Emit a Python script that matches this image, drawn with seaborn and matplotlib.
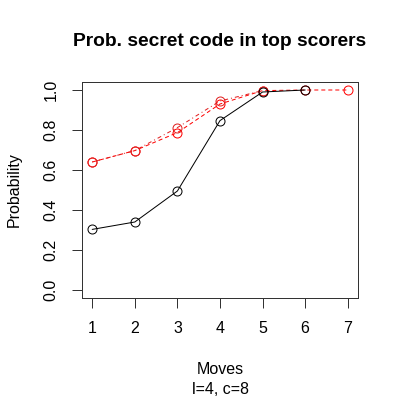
"""Probability that the secret code is among the top scorers, by move."""

import matplotlib
matplotlib.use("Agg")
import matplotlib.pyplot as plt
import seaborn as sns
import pandas as pd

# Values
moves_black = [1, 2, 3, 4, 5, 6]
prob_black = [0.303, 0.34, 0.495, 0.847, 0.99, 1.0]

moves_red_dash = [1, 2, 3, 4, 5, 6, 7]
prob_red_dash = [0.64, 0.697, 0.787, 0.93, 0.997, 1.0, 1.0]

moves_red_dotdash = [1, 2, 3, 4, 5]
prob_red_dotdash = [0.64, 0.697, 0.812, 0.945, 0.997]

x_ticks = [1, 2, 3, 4, 5, 6, 7]
y_ticks = [0.0, 0.2, 0.4, 0.6, 0.8, 1.0]

sns.set_theme(style="white")
plt.rcParams['font.family'] = ['Liberation Sans', 'DejaVu Sans']

fig = plt.figure(figsize=(400 / 72, 400 / 72), dpi=72)
ax = fig.add_axes([82 / 400, 102 / 400, 276 / 400, 216 / 400])

series = [
    (moves_red_dash, prob_red_dash, "red", (0, (4, 3))),
    (moves_red_dotdash, prob_red_dotdash, "#e02020", (0, (1, 3, 4, 3))),
    (moves_black, prob_black, "black", "-"),
]
for xs, ys, col, ls in series:
    df = pd.DataFrame({"move": xs, "prob": ys})
    sns.lineplot(data=df, x="move", y="prob", ax=ax, color=col,
                 linewidth=1, linestyle=ls, marker="o", markersize=9,
                 markerfacecolor="none", markeredgecolor=col,
                 markeredgewidth=1)

ax.set_xlim(0.76, 7.24)
ax.set_ylim(-0.04, 1.04)
ax.set_xticks(x_ticks)
ax.set_xticklabels([str(t) for t in x_ticks])
ax.set_yticks(y_ticks)
ax.set_yticklabels([f"{t:.1f}" for t in y_ticks], rotation=90, va="center")
ax.tick_params(axis="both", direction="out", length=9.6, width=1,
               color="#333333", labelsize=16, labelcolor="black")
ax.tick_params(axis="x", pad=13)
ax.tick_params(axis="y", pad=14)
ax.tick_params(bottom=True, left=True)
for sp in ax.spines.values():
    sp.set_visible(True)
    sp.set_color("#333333")
    sp.set_linewidth(1)

ax.set_xlabel("")
ax.set_ylabel("")
fig.text(14 / 400, 1 - 190 / 400, "Probability", ha="center", va="center",
         rotation=90, fontsize=16, color="black")
fig.text(220 / 400, 1 - 370 / 400, "Moves", ha="center", va="center",
         fontsize=16, color="black")
fig.text(220 / 400, 1 - 389 / 400, "l=4, c=8", ha="center", va="center",
         fontsize=16, color="black")
fig.text(220 / 400, 1 - 42 / 400, "Prob. secret code in top scorers",
         ha="center", va="center", fontsize=19.2, fontweight="bold",
         color="black")

fig.savefig("out.png", dpi=72)
